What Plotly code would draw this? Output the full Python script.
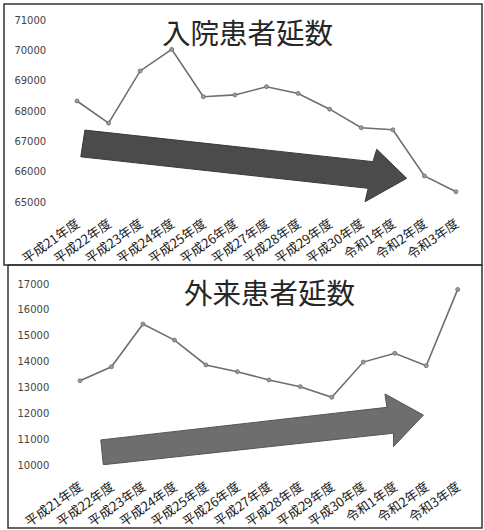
import plotly.graph_objects as go

# ---- data ----
years = ["平成21年度", "平成22年度", "平成23年度", "平成24年度", "平成25年度",
         "平成26年度", "平成27年度", "平成28年度", "平成29年度", "平成30年度",
         "令和1年度", "令和2年度", "令和3年度"]
inpatient = [68330, 67600, 69320, 70030, 68470, 68530, 68800, 68580,
             68060, 67450, 67380, 65860, 65340]
outpatient = [13260, 13800, 15450, 14830, 13870, 13610, 13290, 13030,
              12620, 13980, 14320, 13840, 16790]
title_in = "入院患者延数"
title_out = "外来患者延数"
ticks_in = [65000, 66000, 67000, 68000, 69000, 70000, 71000]
ticks_out = [10000, 11000, 12000, 13000, 14000, 15000, 16000, 17000]

# arrow outlines in data units (x index, y value)
arrow_in = [(0.25, 67370), (9.37, 66330), (9.49, 66740), (10.44, 65780),
            (9.12, 65010), (9.22, 65450), (0.12, 66490)]
arrow_out = [(0.66, 10970), (9.75, 12230), (9.69, 12750), (10.91, 11930),
             (9.96, 10710), (9.96, 11230), (0.74, 10010)]

W, H = 484, 530
idx = list(range(len(years)))


def px_x(a, b):
    return [a / W, b / W]


def px_y(top, bottom):
    return [1 - bottom / H, 1 - top / H]


def dom_x(first_px, last_px):
    step = (last_px - first_px) / (len(years) - 1)
    return px_x(first_px - 0.5 * step, last_px + 0.5 * step)


fig = go.Figure()
line_style = dict(color="#6e6e6e", width=1.6)
marker_style = dict(size=4, color="#9a9a9a", line=dict(color="#6e6e6e", width=0.8))

fig.add_trace(go.Scatter(x=idx, y=inpatient, mode="lines+markers", line=line_style,
                         marker=marker_style, xaxis="x", yaxis="y", showlegend=False,
                         cliponaxis=False))
fig.add_trace(go.Scatter(x=idx, y=outpatient, mode="lines+markers", line=line_style,
                         marker=marker_style, xaxis="x2", yaxis="y2", showlegend=False,
                         cliponaxis=False))

tickfont_x = dict(family="Noto Sans CJK JP", size=13, color="#1a1a1a")
tickfont_y = dict(family="DejaVu Sans", size=10, color="#444444")

common_x = dict(tickmode="array", tickvals=idx, ticktext=years, tickangle=-35,
                range=[-0.5, len(years) - 0.5], showgrid=False, zeroline=False,
                showline=False, ticks="", tickfont=tickfont_x, fixedrange=True,
                automargin=False, ticklabelstandoff=11)
common_y = dict(showgrid=False, zeroline=False, showline=False, ticks="",
                tickfont=tickfont_y, ticklabelstandoff=14, fixedrange=True,
                automargin=False, tickmode="array")

fig.update_layout(
    width=W, height=H,
    margin=dict(l=0, r=0, t=0, b=0, autoexpand=False),
    paper_bgcolor="white", plot_bgcolor="white",
    xaxis=dict(common_x, domain=dom_x(77, 456), anchor="y"),
    yaxis=dict(common_y, domain=px_y(20, 202), range=[65000, 71000],
               tickvals=ticks_in, ticktext=[str(v) for v in ticks_in], anchor="x"),
    xaxis2=dict(common_x, domain=dom_x(80, 457.7), anchor="y2"),
    yaxis2=dict(common_y, domain=px_y(284, 465), range=[10000, 17000],
                tickvals=ticks_out, ticktext=[str(v) for v in ticks_out], anchor="x2"),
)


def path(points):
    return "M " + " L ".join(f"{x},{y}" for x, y in points) + " Z"


fig.add_shape(type="path", path=path(arrow_in), xref="x", yref="y",
              fillcolor="#4b4b4b", line=dict(color="#3a3a3a", width=1), layer="below")
fig.add_shape(type="path", path=path(arrow_out), xref="x2", yref="y2",
              fillcolor="#6e6e6e", line=dict(color="#555555", width=1), layer="below")

# panel borders
fig.add_shape(type="rect", xref="paper", yref="paper",
              x0=4 / W, x1=482 / W, y0=1 - 265 / H, y1=1 - 4 / H,
              line=dict(color="#333333", width=1.5))
fig.add_shape(type="rect", xref="paper", yref="paper",
              x0=8 / W, x1=482 / W, y0=1 - 528 / H, y1=1 - 265 / H,
              line=dict(color="#333333", width=1.5))

title_font = dict(family="Noto Sans CJK JP", size=28.5, color="#262626")
fig.add_annotation(text=title_in, xref="paper", yref="paper", x=248 / W, y=1 - 32 / H,
                   showarrow=False, font=title_font, xanchor="center", yanchor="middle")
fig.add_annotation(text=title_out, xref="paper", yref="paper", x=269 / W, y=1 - 291 / H,
                   showarrow=False, font=title_font, xanchor="center", yanchor="middle")

fig.write_html("out.html")
